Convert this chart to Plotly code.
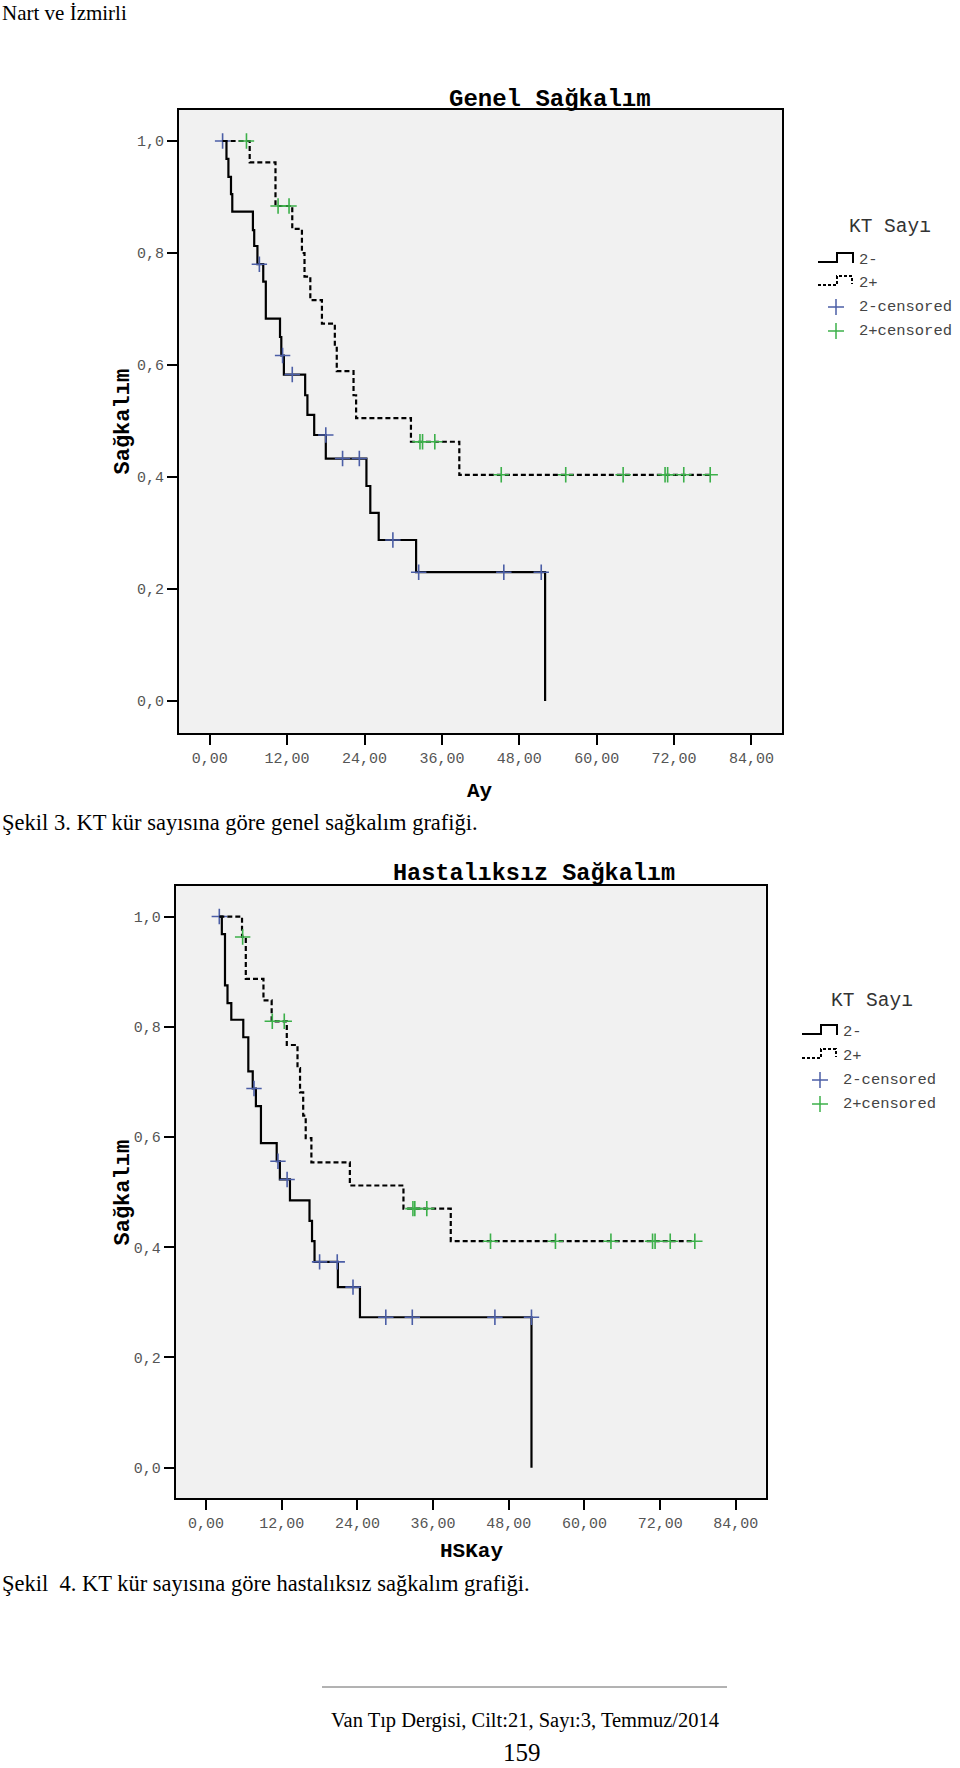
import plotly.graph_objects as go

W, H = 960, 1768

# ---------------- data ----------------
# Genel Sağkalım (overall survival)
os_neg_t = [2.0, 2.6, 2.9, 3.3, 3.5, 6.7, 6.9, 7.4, 8.3, 8.7, 10.9, 11.1, 11.5, 14.8, 15.15, 16.2, 18.0, 24.3, 24.9, 26.2, 32.0, 52.0]
os_neg_s = [1.0, 0.968, 0.936, 0.905, 0.874, 0.841, 0.8125, 0.78, 0.749, 0.683, 0.65, 0.617, 0.583, 0.546, 0.511, 0.475, 0.433, 0.384, 0.336, 0.2875, 0.23, 0.0]
os_neg_cens_t = [2.0, 7.7, 11.3, 12.8, 18.0, 20.6, 23.2, 28.4, 32.4, 45.6, 51.4]
os_neg_cens_s = [1.0, 0.78, 0.617, 0.583, 0.475, 0.433, 0.433, 0.2875, 0.23, 0.23, 0.23]

os_pos_t = [2.0, 6.2, 10.2, 12.8, 14.3, 14.7, 15.6, 17.4, 19.4, 19.7, 22.3, 22.7, 31.2, 38.7, 77.6]
os_pos_s = [1.0, 0.962, 0.884, 0.843, 0.8, 0.758, 0.716, 0.674, 0.633, 0.589, 0.546, 0.505, 0.463, 0.404, 0.404]
os_pos_cens_t = [5.7, 10.6, 12.3, 32.6, 33.0, 34.9, 45.2, 55.2, 64.1, 70.6, 71.0, 73.5, 77.6]
os_pos_cens_s = [1.0, 0.884, 0.884, 0.463, 0.463, 0.463, 0.404, 0.404, 0.404, 0.404, 0.404, 0.404, 0.404]

# Hastalıksız Sağkalım (disease-free survival)
dfs_neg_t = [2.1, 2.5, 3.0, 3.4, 4.0, 5.9, 6.7, 7.4, 7.9, 8.7, 11.2, 11.7, 13.3, 16.4, 16.8, 17.2, 20.9, 24.4, 51.6]
dfs_neg_s = [1.0, 0.968, 0.875, 0.843, 0.8128, 0.781, 0.719, 0.688, 0.656, 0.589, 0.556, 0.523, 0.485, 0.448, 0.411, 0.3735, 0.3276, 0.273, 0.0]
dfs_neg_cens_t = [2.1, 7.6, 11.4, 12.85, 18.0, 20.8, 23.3, 28.5, 32.7, 45.8, 51.6]
dfs_neg_cens_s = [1.0, 0.688, 0.556, 0.523, 0.3735, 0.3735, 0.3276, 0.273, 0.273, 0.273, 0.273]

dfs_pos_t = [2.1, 5.7, 6.3, 9.1, 10.4, 12.8, 14.5, 14.9, 15.4, 15.8, 16.7, 22.8, 31.3, 38.8, 77.5]
dfs_pos_s = [1.0, 0.963, 0.887, 0.848, 0.81, 0.767, 0.725, 0.681, 0.639, 0.598, 0.554, 0.512, 0.47, 0.411, 0.411]
dfs_pos_cens_t = [5.8, 10.5, 12.4, 32.8, 33.1, 35.0, 45.1, 55.4, 64.2, 70.8, 71.2, 73.6, 77.5]
dfs_pos_cens_s = [0.963, 0.81, 0.81, 0.47, 0.47, 0.47, 0.411, 0.411, 0.411, 0.411, 0.411, 0.411, 0.411]

x_tick_vals = [0, 12, 24, 36, 48, 60, 72, 84]
x_tick_text = ["0,00", "12,00", "24,00", "36,00", "48,00", "60,00", "72,00", "84,00"]
y_tick_vals = [0.0, 0.2, 0.4, 0.6, 0.8, 1.0]
y_tick_text = ["0,0", "0,2", "0,4", "0,6", "0,8", "1,0"]

legend_title = "KT Sayı"
legend_labels = ["2-", "2+", "2-censored", "2+censored"]

# ---------------- styling ----------------
BLUE = "#4b5ea6"
GREEN = "#3cb04a"
MONO = "Liberation Mono"
SERIF = "Liberation Serif"


def px(x):
    return x / W


def py(y):
    return 1 - y / H


fig = go.Figure()


def add_km(t, s, ct, cs, dash, ccol, xa, ya):
    fig.add_trace(go.Scatter(
        x=t, y=s, mode="lines",
        line=dict(shape="hv", color="black", width=2.2, dash=dash),
        xaxis=xa, yaxis=ya, showlegend=False, hoverinfo="skip"))
    fig.add_trace(go.Scatter(
        x=ct, y=cs, mode="markers",
        marker=dict(symbol="cross-thin", size=11, color=ccol,
                    line=dict(color=ccol, width=1.6)),
        xaxis=xa, yaxis=ya, showlegend=False, hoverinfo="skip"))


add_km(os_neg_t, os_neg_s, os_neg_cens_t, os_neg_cens_s, "solid", BLUE, "x", "y")
add_km(os_pos_t, os_pos_s, os_pos_cens_t, os_pos_cens_s, "5px,3px", GREEN, "x", "y")
add_km(dfs_neg_t, dfs_neg_s, dfs_neg_cens_t, dfs_neg_cens_s, "solid", BLUE, "x2", "y2")
add_km(dfs_pos_t, dfs_pos_s, dfs_pos_cens_t, dfs_pos_cens_s, "5px,3px", GREEN, "x2", "y2")

axis_common = dict(
    showline=True, mirror=True, linecolor="black", linewidth=2,
    ticks="outside", ticklen=10, tickwidth=2, tickcolor="black",
    showgrid=False, zeroline=False,
    tickfont=dict(family=MONO, size=15, color="#555555"),
)

fig.update_layout(
    width=W, height=H,
    margin=dict(l=0, r=0, t=0, b=0),
    paper_bgcolor="white",
    plot_bgcolor="#f1f1f1",
    xaxis=dict(domain=[px(179), px(782)], anchor="y", range=[-4.76, 88.73],
               tickvals=x_tick_vals, ticktext=x_tick_text, **axis_common),
    yaxis=dict(domain=[py(733), py(110)], anchor="x", range=[-0.0571, 1.0554],
               tickvals=y_tick_vals, ticktext=y_tick_text, **axis_common),
    xaxis2=dict(domain=[px(175.8), px(765.7)], anchor="y2", range=[-4.80, 88.74],
                tickvals=x_tick_vals, ticktext=x_tick_text, **axis_common),
    yaxis2=dict(domain=[py(1498.3), py(885.7)], anchor="x2", range=[-0.0555, 1.056],
                tickvals=y_tick_vals, ticktext=y_tick_text, **axis_common),
)

annotations = []
shapes = []


def text(t, x, y, size, family=MONO, color="black", xanchor="center", angle=0):
    annotations.append(dict(
        text=t, x=px(x), y=py(y), xref="paper", yref="paper",
        xanchor=xanchor, yanchor="middle", showarrow=False, textangle=angle,
        font=dict(family=family, size=size, color=color)))


# page texts
text("Nart ve İzmirli", 0, 13, 21, SERIF, xanchor="left")
text("<b>Genel Sağkalım</b>", 550, 99, 24)
text("<b>Sağkalım</b>", 122.5, 421, 22, angle=-90)
text("<b>Ay</b>", 480, 792, 21)
text("Şekil 3. KT kür sayısına göre genel sağkalım grafiği.", 0, 822, 22.5, SERIF, xanchor="left")

text("<b>Hastalıksız Sağkalım</b>", 534, 873, 23.5)
text("<b>Sağkalım</b>", 122.5, 1192, 22, angle=-90)
text("<b>HSKay</b>", 471, 1551, 21)
text("Şekil\u00a0 4. KT kür sayısına göre hastalıksız sağkalım grafiği.", 0, 1583, 22.5, SERIF, xanchor="left")

text("Van Tıp Dergisi, Cilt:21, Sayı:3, Temmuz/2014", 525, 1720, 20.5, SERIF)
text("159", 522, 1752, 25, SERIF)
shapes.append(dict(type="line", xref="paper", yref="paper",
                   x0=px(322), x1=px(727), y0=py(1687), y1=py(1687),
                   line=dict(color="#666666", width=1)))


def path(points):
    return "M " + " L ".join(f"{px(a):.5f},{py(b):.5f}" for a, b in points)


def legend(ix, kx, ky, rows):
    text(legend_title, kx, ky, 19.5, MONO, "#333333")
    # solid step icon
    y = rows[0] + 2
    shapes.append(dict(type="path", xref="paper", yref="paper",
                       path=path([(ix, y), (ix + 19, y), (ix + 19, y - 9), (ix + 35, y - 9), (ix + 35, y + 1)]),
                       line=dict(color="black", width=2)))
    y = rows[1] + 2
    shapes.append(dict(type="path", xref="paper", yref="paper",
                       path=path([(ix, y), (ix + 19, y), (ix + 19, y - 9), (ix + 34, y - 9), (ix + 34, y - 1)]),
                       line=dict(color="black", width=2, dash="3px,2px")))
    for r, col in ((rows[2], BLUE), (rows[3], GREEN)):
        cx = ix + 18
        shapes.append(dict(type="line", xref="paper", yref="paper",
                           x0=px(cx), x1=px(cx), y0=py(r - 8), y1=py(r + 8),
                           line=dict(color=col, width=1.5)))
        shapes.append(dict(type="line", xref="paper", yref="paper",
                           x0=px(cx - 8), x1=px(cx + 8), y0=py(r), y1=py(r),
                           line=dict(color=col, width=1.5)))
    for lab, r in zip(legend_labels, rows):
        text(lab, ix + 39, r, 15.5, MONO, "#444444", xanchor="left")


legend(818, 890, 227, [260, 283, 307, 331])
legend(802, 872, 1001, [1032, 1056, 1080, 1104])

fig.update_layout(annotations=annotations, shapes=shapes)

fig.write_html(
    "out.html",
    config={"displayModeBar": False},
    post_script="document.body.style.margin='0';document.body.style.overflow='hidden';",
)
